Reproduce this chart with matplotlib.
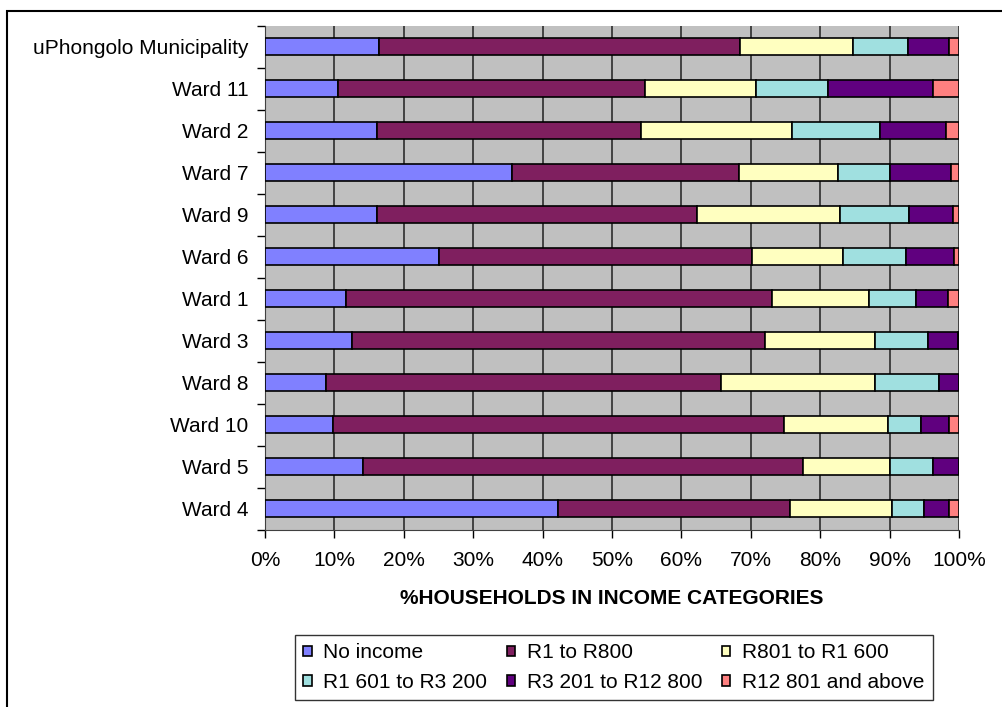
import matplotlib.pyplot as plt
import numpy as np
from matplotlib.patches import Rectangle

plt.rcParams['font.family'] = ['Liberation Sans', 'DejaVu Sans']

# Wards, listed bottom to top as they appear on the chart
areas = ['Ward 4', 'Ward 5', 'Ward 10', 'Ward 8', 'Ward 3', 'Ward 1',
         'Ward 6', 'Ward 9', 'Ward 7', 'Ward 2', 'Ward 11', 'uPhongolo Municipality']

income_groups = ['No income', 'R1 to R800', 'R801 to R1 600',
                 'R1 601 to R3 200', 'R3 201 to R12 800', 'R12 801 and above']

# Share of households (%) per income group, same order as areas
no_income = [42.2, 14.1, 9.8, 8.8, 12.6, 11.7, 25.1, 16.2, 35.6, 16.2, 10.5, 16.4]
r1_r800 = [33.5, 63.5, 65.0, 56.9, 59.5, 61.3, 45.1, 46.1, 32.7, 38.0, 44.2, 52.1]
r801_r1600 = [14.6, 12.5, 15.0, 22.2, 15.8, 14.1, 13.1, 20.5, 14.3, 21.7, 16.0, 16.3]
r1601_r3200 = [4.7, 6.2, 4.8, 9.3, 7.7, 6.7, 9.1, 10.0, 7.5, 12.7, 10.5, 7.8]
r3201_r12800 = [3.6, 3.7, 3.9, 2.8, 4.2, 4.6, 6.9, 6.4, 8.7, 9.5, 15.1, 6.0]
r12801_up = [1.4, 0.0, 1.5, 0.0, 0.2, 1.6, 0.7, 0.8, 1.2, 1.9, 3.7, 1.4]

series = [no_income, r1_r800, r801_r1600, r1601_r3200, r3201_r12800, r12801_up]
colors = ['#8080FF', '#7F1F5F', '#FFFFC0', '#A0E0E0', '#60007F', '#FF8080']

fig = plt.figure(figsize=(10.02, 7.07), dpi=100)
ax = fig.add_axes([0.2645, 0.2505, 0.6925, 0.713])
ax.set_facecolor('#C0C0C0')

y = np.arange(len(areas))
data = np.array(series, dtype=float)
totals = data.sum(axis=0)
shares = data / totals * 100
left = np.zeros(len(areas))
for vals, col, name in zip(shares, colors, income_groups):
    ax.barh(y, vals, left=left, height=0.4, color=col, edgecolor='black',
            linewidth=1.2, label=name, zorder=3)
    left += vals

ax.set_xlim(0, 100)
ax.set_ylim(-0.5, len(areas) - 0.5)
ax.set_xticks(np.arange(0, 101, 10))
ax.set_xticklabels([f'{v}%' for v in range(0, 101, 10)], fontsize=15)
ax.xaxis.grid(True, color='#202020', linewidth=1.1, zorder=1)
ax.tick_params(axis='x', length=6, width=1, pad=9)

# category labels sit between tick marks on the y axis
ax.set_yticks(np.arange(len(areas) + 1) - 0.5)
ax.set_yticklabels([])
ax.set_yticks(y, minor=True)
ax.set_yticklabels(areas, minor=True, fontsize=15)
ax.tick_params(axis='y', which='major', length=6, width=1)
ax.tick_params(axis='y', which='minor', length=0, pad=12)

for side in ['top', 'right']:
    ax.spines[side].set_visible(False)
ax.spines['left'].set_color('#404040')
ax.spines['bottom'].set_color('#404040')

ax.set_xlabel('%HOUSEHOLDS IN INCOME CATEGORIES', fontsize=15,
              fontweight='bold', labelpad=14)

# legend filled row by row
handles, labels = ax.get_legend_handles_labels()
order = [0, 3, 1, 4, 2, 5]
leg = fig.legend([handles[i] for i in order], [labels[i] for i in order],
                 loc='upper left', bbox_to_anchor=(295 / 1002, 1 - 635 / 707),
                 ncol=3, fontsize=15, frameon=True,
                 fancybox=False, edgecolor='black', handlelength=0.4,
                 handleheight=0.4, handletextpad=0.55, columnspacing=0.95,
                 borderaxespad=0, borderpad=0.4, labelspacing=0.5)
leg.get_frame().set_linewidth(1.0)

# outer chart frame
fig.patches.append(Rectangle((0.007, -0.05), 1.2, 1.034,
                             transform=fig.transFigure, fill=False,
                             edgecolor='black', linewidth=1.5))

fig.savefig('out.png', dpi=100)
